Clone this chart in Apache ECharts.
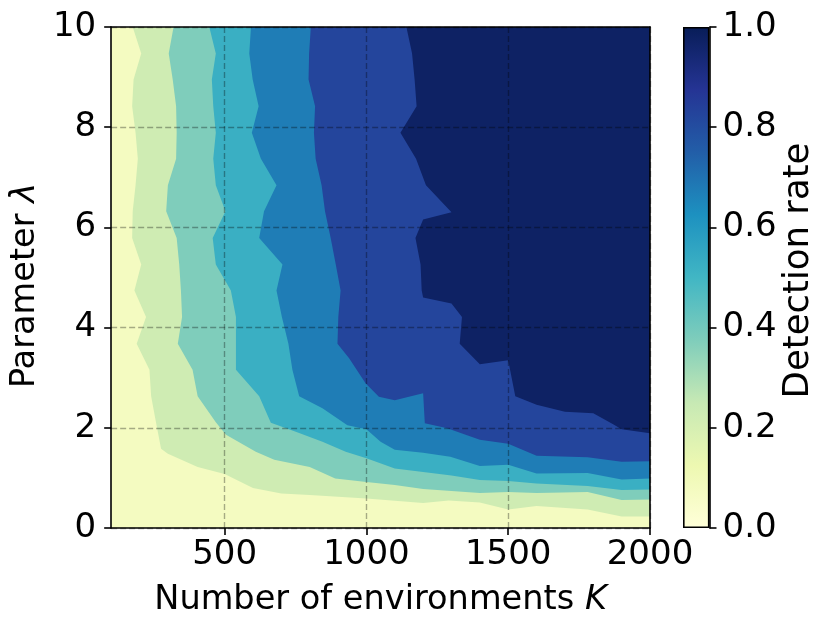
<!DOCTYPE html>
<html>
<head>
<meta charset="utf-8">
<style>
html, body { margin: 0; background: #fff; }
#main { width: 830px; height: 629px; }
</style>
<script src="https://cdn.jsdelivr.net/npm/echarts@6.0.0/dist/echarts.min.js"></script>
</head>
<body>
<div id="main"></div>
<script>
// contour levels of the detection rate and the colour of each band (lowest band first)
var levels = [0.15, 0.30, 0.45, 0.60, 0.75, 0.90];
var bandColors = ['#f4fbc1', '#cfecb3', '#7fcdbb', '#3aafc3', '#1f7db6', '#24459c', '#0e2264'];
var ylgnbu = ['#ffffd9', '#edf8b1', '#c7e9b4', '#7fcdbb', '#41b6c4', '#1d91c0', '#225ea8', '#253494', '#081d58'];

var kRange = [100, 2000];
var lambdaRange = [0, 10];
var kTicks = [500, 1000, 1500, 2000];
var cbarTicks = [0, 0.2, 0.4, 0.6, 0.8, 1.0];

// contour lines [K, lambda], read from top edge to right edge
var contour15 = [[176,10],[206,9.47],[179,8.95],[174,8.42],[186,7.89],[194,7.37],[186,6.84],[176,6.32],[174,5.79],[206,5.26],[182,4.74],[223,4.21],[190,3.68],[235,3.16],[241,2.63],[258,2.11],[276,1.58],[300,1.48],[405,1.22],[500,1.08],[600,0.8],[700,0.69],[800,0.66],[1000,0.59],[1200,0.5],[1290,0.55],[1400,0.51],[1500,0.37],[1600,0.44],[1780,0.37],[1900,0.23],[2000,0.23]];
var contour30 = [[320,10],[303,9.47],[317,8.95],[329,8.42],[331,7.89],[329,7.37],[300,6.84],[294,6.32],[331,5.79],[340,5.26],[346,4.74],[350,4.21],[335,3.68],[387,3.16],[405,2.63],[469,2.11],[505,1.86],[610,1.52],[675,1.36],[800,1.22],[890,0.99],[1000,0.92],[1100,0.86],[1200,0.78],[1400,0.7],[1500,0.72],[1600,0.7],[1780,0.72],[1900,0.56],[2000,0.57]];
var contour45 = [[446,10],[469,9.47],[455,8.95],[460,8.42],[469,7.89],[460,7.37],[469,6.84],[503,6.32],[458,5.79],[469,5.26],[522,4.74],[540,4.21],[540,3.68],[540,3.16],[622,2.63],[663,2.1],[751,1.92],[845,1.72],[927,1.52],[1000,1.39],[1100,1.19],[1200,1.12],[1300,1.05],[1400,0.96],[1500,0.94],[1600,0.89],[1780,0.84],[1900,0.76],[2000,0.77]];
var contour60 = [[593,10],[587,9.47],[599,8.95],[620,8.42],[596,7.89],[628,7.37],[683,6.84],[639,6.32],[622,5.79],[704,5.26],[683,4.74],[702,4.21],[725,3.68],[739,3.16],[763,2.63],[845,2.39],[933,2.05],[1000,1.97],[1050,1.72],[1100,1.56],[1200,1.5],[1296,1.42],[1400,1.24],[1500,1.26],[1600,1.09],[1780,1.1],[1900,0.97],[2000,0.99]];
var contour75 = [[804,10],[798,9.47],[796,8.95],[819,8.42],[815,7.89],[821,7.37],[842,6.84],[854,6.32],[874,5.79],[892,5.26],[909,4.74],[901,4.21],[898,3.68],[939,3.39],[997,2.89],[1044,2.62],[1100,2.55],[1200,2.69],[1206,2.09],[1285,1.99],[1400,1.76],[1500,1.68],[1600,1.44],[1780,1.41],[1900,1.32],[2000,1.33]];
var contour90 = [[1141,10],[1161,9.47],[1170,8.95],[1177,8.42],[1120,7.89],[1175,7.37],[1210,6.84],[1300,6.3],[1200,6.16],[1173,5.79],[1191,5.26],[1195,4.74],[1200,4.6],[1300,4.48],[1337,4.21],[1329,3.68],[1400,3.27],[1500,3.35],[1525,2.63],[1600,2.46],[1700,2.32],[1800,2.29],[1870,2.07],[1900,1.97],[2000,1.89]];
var contours = [contour15, contour30, contour45, contour60, contour75, contour90];

var font = 'DejaVu Sans';
var black = '#000';

var chart = echarts.init(document.getElementById('main'));

// region above each contour line, closed through the upper right corner
function renderBand(params, api) {
	var idx = api.value(0);
	var pts = contours[idx].map(function (p) { return api.coord(p); });
	pts.push(api.coord([kRange[1], lambdaRange[1]]));
	return {
		type: 'polygon',
		shape: { points: pts },
		style: { fill: bandColors[idx + 1], stroke: null }
	};
}

var frameLine = { show: true, onZero: false, lineStyle: { color: black, width: 1.6 } };
var tickStyle = { show: true, length: 7, lineStyle: { color: black, width: 1.6 } };
var gridDash = { show: true, lineStyle: { type: [6, 3], color: 'rgba(0,0,0,0.32)', width: 1.4 } };
var labelStyle = { color: black, fontSize: 34, fontFamily: font };
function nameStyle(size, pad) {
	return {
		color: black, fontSize: size, fontFamily: font, padding: pad,
		rich: { i: { fontStyle: 'italic', fontSize: size, fontFamily: font, color: black } }
	};
}

var stops = ylgnbu.map(function (c, i) {
	return { offset: i / (ylgnbu.length - 1), color: c };
});

var option = {
	animation: false,
	backgroundColor: '#fff',
	grid: [
		{ left: 110, top: 27, width: 540, height: 501, show: true, backgroundColor: bandColors[0], borderWidth: 0 },
		{ left: 683, top: 27, width: 26.5, height: 501 }
	],
	xAxis: [
		{
			gridIndex: 0, type: 'value', min: kRange[0], max: kRange[1], z: 5,
			axisLine: frameLine,
			axisTick: Object.assign({ customValues: kTicks }, tickStyle),
			axisLabel: Object.assign({
				customValues: kTicks, margin: 10,
				formatter: function (v) { return String(v); }
			}, labelStyle),
			splitLine: gridDash,
			name: 'Number of environments {i|K}',
			nameLocation: 'middle', nameGap: 55, nameTextStyle: nameStyle(33.6, 0)
		},
		{
			gridIndex: 0, type: 'value', min: kRange[0], max: kRange[1], position: 'top', z: 5,
			axisLine: frameLine, axisTick: { show: false }, axisLabel: { show: false }, splitLine: { show: false }
		},
		{ gridIndex: 1, type: 'category', data: ['rate'], show: false }
	],
	yAxis: [
		{
			gridIndex: 0, type: 'value', min: lambdaRange[0], max: lambdaRange[1], interval: 2, z: 5,
			axisLine: frameLine, axisTick: tickStyle,
			axisLabel: Object.assign({ margin: 15 }, labelStyle),
			splitLine: gridDash,
			name: 'Parameter {i|λ}',
			nameLocation: 'middle', nameGap: 66, nameRotate: 90, nameTextStyle: nameStyle(33.6, [0, 16, 0, 0])
		},
		{
			gridIndex: 0, type: 'value', min: lambdaRange[0], max: lambdaRange[1], position: 'right', z: 5,
			axisLine: frameLine, axisTick: { show: false }, axisLabel: { show: false }, splitLine: { show: false }
		},
		{
			gridIndex: 1, type: 'value', min: 0, max: 1, interval: 0.2, position: 'right', z: 5,
			axisLine: frameLine, axisTick: tickStyle,
			axisLabel: Object.assign({
				margin: 13,
				formatter: function (v) { return v.toFixed(1); }
			}, labelStyle),
			splitLine: { show: false },
			name: 'Detection rate',
			nameLocation: 'middle', nameGap: 70, nameRotate: 90, nameTextStyle: nameStyle(35.5, [0, 0, 0, 14])
		}
	],
	series: [
		{
			type: 'custom',
			xAxisIndex: 0, yAxisIndex: 0,
			clip: true,
			renderItem: renderBand,
			data: contours.map(function (c, i) { return [i]; })
		},
		{
			// colour bar
			type: 'bar',
			xAxisIndex: 2, yAxisIndex: 2,
			barWidth: '100%',
			silent: true,
			data: [cbarTicks[cbarTicks.length - 1]],
			itemStyle: {
				color: new echarts.graphic.LinearGradient(0, 1, 0, 0, stops),
				borderColor: black,
				borderWidth: 1.6
			}
		}
	]
};

chart.setOption(option);
</script>
</body>
</html>
